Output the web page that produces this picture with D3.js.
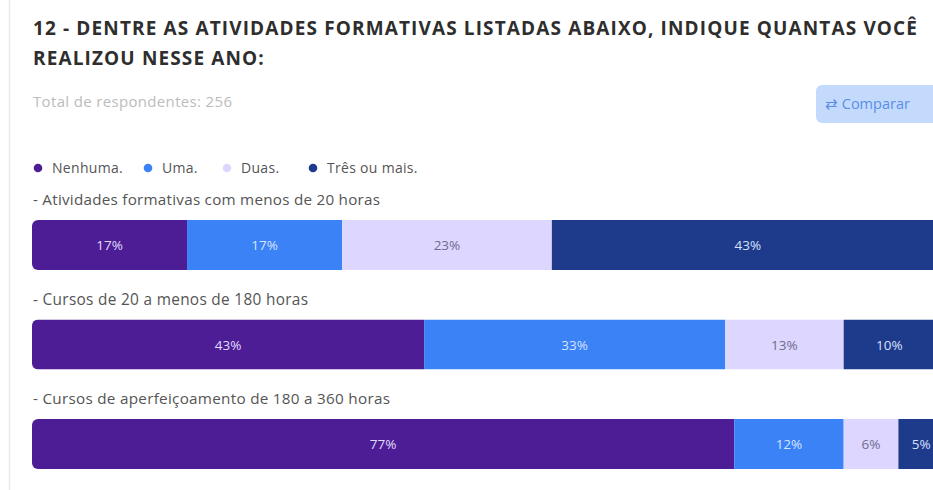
<!DOCTYPE html>
<html>
<head>
<meta charset="utf-8">
<script src="https://cdn.jsdelivr.net/npm/d3@7"></script>
<style>
  html, body { margin: 0; padding: 0; background: #ffffff; }
  svg { display: block; font-family: "Open Sans", "Noto Sans", sans-serif; }
</style>
</head>
<body>
<svg id="chart" width="933" height="490"></svg>
<script>
// Question and response breakdown
const titleLines = [
  "12 - DENTRE AS ATIVIDADES FORMATIVAS LISTADAS ABAIXO, INDIQUE QUANTAS VOCÊ",
  "REALIZOU NESSE ANO:"
];
const totalLabel = "Total de respondentes: 256";
const buttonLabel = "⇄ Comparar";

const categories = [
  "- Atividades formativas com menos de 20 horas",
  "- Cursos de 20 a menos de 180 horas",
  "- Cursos de aperfeiçoamento de 180 a 360 horas"
];
const seriesNames = ["Nenhuma.", "Uma.", "Duas.", "Três ou mais."];
const nenhuma = [17, 43, 77];
const uma     = [17, 33, 12];
const duas    = [23, 13, 6];
const tres    = [43, 10, 5];

const seriesColors = ["#4c1d95", "#3b82f6", "#ddd6fe", "#1e3a8a"];
const labelColors  = ["#e2dcff", "#d6e4ff", "#6f6c8f", "#d6e0ff"];

const values = [nenhuma, uma, duas, tres];
const rows = categories.map((c, i) => {
  const r = { category: c };
  seriesNames.forEach((s, j) => { r[s] = values[j][i]; });
  return r;
});

// grow a text partly by size and partly by letter spacing to reach a width
function fitTo(node, width) {
  const sel = d3.select(node);
  const size = +sel.attr("font-size");
  const len0 = node.getComputedTextLength();
  const grow = Math.min(1.1, Math.max(0.9, 1 + (width / len0 - 1) * 0.6));
  sel.attr("font-size", size * grow);
  const len = node.getComputedTextLength();
  const n = node.textContent.length;
  if (n > 1) sel.attr("letter-spacing", Math.max(-0.5, Math.min(1.2, (width - len) / (n - 1))));
}

const svg = d3.select("#chart");

// card left border
svg.append("line")
  .attr("x1", 9.5).attr("x2", 9.5).attr("y1", 0).attr("y2", 490)
  .attr("stroke", "#ececec").attr("stroke-width", 1.5);

// title
const title = svg.append("g").selectAll("text").data(titleLines).join("text")
  .attr("x", 33).attr("y", (d, i) => 35 + i * 30)
  .attr("font-size", 19).attr("font-weight", 700)
  .attr("fill", "#2e2e2e")
  .text(d => d);
{
  const first = title.node();
  const n = titleLines[0].length;
  title.attr("letter-spacing", (884 - first.getComputedTextLength()) / (n - 1));
}

const total = svg.append("text")
  .attr("x", 33).attr("y", 107)
  .attr("font-size", 14).attr("fill", "#bcbcbc")
  .text(totalLabel);
fitTo(total.node(), 199);

// compare button (cut at the right edge)
svg.append("rect")
  .attr("x", 816).attr("y", 85).attr("width", 140).attr("height", 38)
  .attr("rx", 6).attr("fill", "#c4dafc");
svg.append("text")
  .attr("x", 825).attr("y", 109)
  .attr("font-size", 14.5).attr("fill", "#5a8ee6")
  .text(buttonLabel);

// legend
const legendX = [38, 148, 227, 313];
const legend = svg.append("g").selectAll("g").data(seriesNames).join("g")
  .attr("transform", (d, i) => `translate(${legendX[i]},168)`);
legend.append("circle").attr("r", 4.3).attr("fill", (d, i) => seriesColors[i]);
legend.append("text")
  .attr("x", 14).attr("y", 5)
  .attr("font-size", 14).attr("fill", "#555")
  .attr("letter-spacing", 0.3)
  .text(d => d);

// stacked bars
const x = d3.scaleLinear().domain([0, 100]).range([32, 944]);
const bh = 50;
const rowStep = 99.5;
const barTop = i => 220 + i * rowStep;
const labelW = [347, 275, 357];

const stack = d3.stack().keys(seriesNames)(rows);

svg.append("defs").selectAll("clipPath").data(categories).join("clipPath")
  .attr("id", (d, i) => "bar-clip-" + i)
  .append("rect")
  .attr("x", x(0)).attr("y", (d, i) => barTop(i))
  .attr("width", x(100) - x(0)).attr("height", bh)
  .attr("rx", 6);

svg.append("g").selectAll("text").data(categories).join("text")
  .attr("x", 33).attr("y", (d, i) => barTop(i) - 15)
  .attr("font-size", 14.5).attr("fill", "#555")
  .text(d => d)
  .each(function (d, i) { fitTo(this, labelW[i]); });

const layers = svg.append("g").selectAll("g").data(stack).join("g")
  .attr("fill", (d, i) => seriesColors[i]);

layers.selectAll("rect").data(d => d).join("rect")
  .attr("clip-path", (d, i) => `url(#bar-clip-${i})`)
  .attr("x", d => x(d[0]))
  .attr("y", (d, i) => barTop(i))
  .attr("width", d => x(d[1]) - x(d[0]))
  .attr("height", bh);

stack.forEach((layer, j) => {
  svg.append("g").selectAll("text").data(layer).join("text")
    .attr("x", d => (x(d[0]) + x(d[1])) / 2)
    .attr("y", (d, i) => barTop(i) + bh / 2 + 5)
    .attr("text-anchor", "middle")
    .attr("font-size", 13.5).attr("fill", labelColors[j])
    .text(d => (d[1] - d[0]) + "%");
});
</script>
</body>
</html>
